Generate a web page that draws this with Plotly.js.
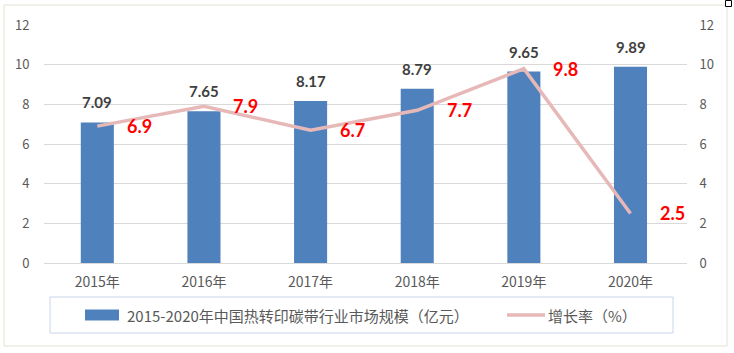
<!DOCTYPE html>
<html>
<head>
<meta charset="utf-8">
<script src="https://cdn.plot.ly/plotly-3.0.1.min.js"></script>
<style>html,body{margin:0;padding:0;background:#fff;}#chart{width:734px;height:353px;}</style>
</head>
<body>
<div id="chart"></div>
<script>
const categories = ['2015年', '2016年', '2017年', '2018年', '2019年', '2020年'];
const marketSize = [7.09, 7.65, 8.17, 8.79, 9.65, 9.89];
const growthRate = [6.9, 7.9, 6.7, 7.7, 9.8, 2.5];
const barName = '2015-2020年中国热转印碳带行业市场规模（亿元）';
const lineName = '增长率（%）';

const W = 734, H = 353;
const M = {l: 44, r: 47, t: 25, b: 90};
const PW = W - M.l - M.r, PH = H - M.t - M.b;
const px = p => (p - M.l) / PW;
const py = p => (H - M.b - p) / PH;

const CJK = '"Noto Sans CJK SC", "Noto Sans", sans-serif';
const LAB = 'Lato, "Liberation Sans", sans-serif';
const BLUE = '#4f81bd';
const PINK = '#e6b9b8';

const traces = [
  {type: 'bar', x: categories, y: marketSize, name: barName,
   marker: {color: BLUE}, hoverinfo: 'skip'},
  {type: 'scatter', mode: 'lines', x: categories, y: growthRate, name: lineName,
   yaxis: 'y2', line: {color: PINK, width: 3.5}, hoverinfo: 'skip'}
];

const annotations = [];
categories.forEach((c, i) => {
  annotations.push({x: c, y: marketSize[i], xref: 'x', yref: 'y', text: marketSize[i].toFixed(2),
    showarrow: false, yanchor: 'bottom', yshift: 9,
    font: {family: LAB, size: 15, color: '#404040', weight: 'bold'}});
  annotations.push({x: c, y: growthRate[i], xref: 'x', yref: 'y2', text: growthRate[i].toFixed(1),
    showarrow: false, xanchor: 'center', yanchor: 'middle', xshift: 42,
    font: {family: LAB, size: 18, color: '#ff0000', weight: 'bold'}});
});
// manual legend texts
annotations.push({xref: 'paper', yref: 'paper', x: px(125), y: py(315), xanchor: 'left', yanchor: 'middle',
  text: barName, showarrow: false, font: {family: CJK, size: 15, color: '#595959'}});
annotations.push({xref: 'paper', yref: 'paper', x: px(546), y: py(315), xanchor: 'left', yanchor: 'middle',
  text: lineName, showarrow: false, font: {family: CJK, size: 15, color: '#595959'}});

const shapes = [
  {type: 'rect', xref: 'paper', yref: 'paper', x0: px(4), x1: px(727), y0: py(5), y1: py(346),
   line: {color: '#e2e2d2', width: 1}, fillcolor: 'rgba(0,0,0,0)', layer: 'below'},
  {type: 'rect', xref: 'paper', yref: 'paper', x0: px(50), x1: px(673), y0: py(297), y1: py(333),
   line: {color: '#c9d6e8', width: 1}, fillcolor: 'rgba(0,0,0,0)'},
  {type: 'rect', xref: 'paper', yref: 'paper', x0: px(85), x1: px(119), y0: py(309.5), y1: py(320.5),
   line: {width: 0}, fillcolor: BLUE},
  {type: 'line', xref: 'paper', yref: 'paper', x0: px(507), x1: px(545), y0: py(315), y1: py(315),
   line: {color: PINK, width: 3.5}},
  {type: 'rect', xref: 'paper', yref: 'paper', x0: px(725.5), x1: px(731.5), y0: py(0.5), y1: py(6.5),
   line: {color: '#000', width: 1}, fillcolor: '#fff'}
];

const layout = {
  width: W, height: H, margin: M,
  paper_bgcolor: '#fff', plot_bgcolor: '#fff',
  showlegend: false, bargap: 0.69,
  xaxis: {type: 'category', showgrid: false, showline: false, zeroline: false,
    ticks: 'outside', ticklen: 6, tickcolor: 'rgba(0,0,0,0)',
    tickfont: {family: CJK, size: 14, color: '#595959'}},
  yaxis: {range: [0, 12], dtick: 2, showgrid: true, gridcolor: '#d9d9d9', gridwidth: 1,
    zeroline: true, zerolinecolor: '#d9d9d9', zerolinewidth: 1, showline: false,
    ticks: 'outside', ticklen: 11, tickcolor: 'rgba(0,0,0,0)',
    tickfont: {family: CJK, size: 13, color: '#595959'}},
  yaxis2: {range: [0, 12], dtick: 2, overlaying: 'y', side: 'right', showgrid: false,
    zeroline: false, showline: false,
    ticks: 'outside', ticklen: 9, tickcolor: 'rgba(0,0,0,0)',
    tickfont: {family: CJK, size: 13, color: '#595959'}},
  annotations: annotations, shapes: shapes
};

Plotly.newPlot('chart', traces, layout, {staticPlot: true, displayModeBar: false});
</script>
</body>
</html>
